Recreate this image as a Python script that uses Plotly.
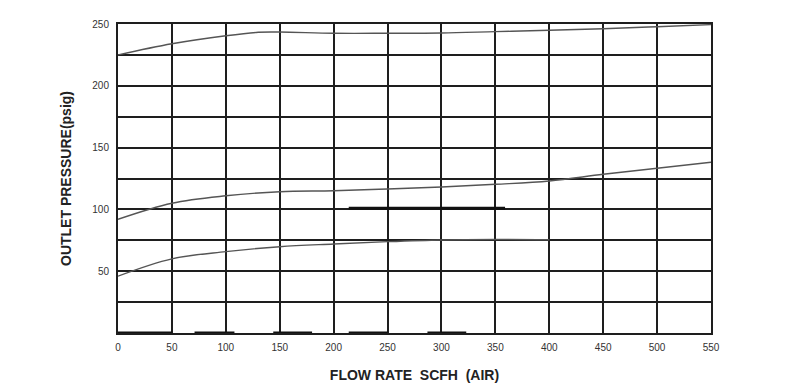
import plotly.graph_objects as go

# Flow rate (SCFH air) sample points and outlet pressure curves (psig)
flow_top = [0, 50, 100, 130, 150, 200, 250, 300, 350, 400, 450, 500, 550]
pressure_top = [225, 234, 240.5, 243.3, 243.5, 242.5, 242.5, 242.7, 243.8, 244.9, 246.2, 247.8, 249.5]

flow_mid = [0, 50, 100, 150, 200, 250, 300, 350, 400, 450, 500, 550]
pressure_mid = [92, 105, 111, 114.3, 115.1, 116.5, 118.1, 120.3, 123, 128.4, 133.3, 138.1]

flow_low = [0, 50, 100, 150, 200, 250, 300, 350, 400]
pressure_low = [46, 60, 65.8, 69.8, 72, 73.9, 75.3, 75.7, 75.5]

# Thickened line segments visible in the scanned chart: (x_start, x_end, y)
segments = [
    (214, 359, 101),
    (0, 50, 0),
    (71, 108, 0),
    (144, 180, 0),
    (214, 250, 0),
    (287, 323, 0),
]

x_tickvals = [0, 50, 100, 150, 200, 250, 300, 350, 400, 450, 500, 550]
x_ticktext = ["0", "50", "100", "150", "200", "250", "300", "350", "400", "450", "500", "550"]
y_tickvals = [0, 25, 50, 75, 100, 125, 150, 175, 200, 225, 250]
y_ticktext = ["", "", "50", "", "100", "", "150", "", "200", "", "250"]

curve_color = "#555555"
grid_color = "#1e1e1e"

fig = go.Figure()
for xs, ys in [(flow_top, pressure_top), (flow_mid, pressure_mid), (flow_low, pressure_low)]:
    fig.add_trace(go.Scatter(x=xs, y=ys, mode="lines", line=dict(color=curve_color, width=1.4, shape="spline"),
                             hoverinfo="skip", showlegend=False))

for x0, x1, yv in segments:
    fig.add_trace(go.Scatter(x=[x0, x1], y=[yv, yv], mode="lines", line=dict(color="#111111", width=3),
                             cliponaxis=False, hoverinfo="skip", showlegend=False))

# page body has an 8px default margin, so the figure is sized to fit within the window
fig.update_layout(
    width=786, height=380,
    margin=dict(l=110, r=83, t=16, b=55),
    paper_bgcolor="white", plot_bgcolor="white",
    font=dict(family="Liberation Sans, Arial, sans-serif", size=10, color="#333333"),
    xaxis=dict(range=[0, 550], tickvals=x_tickvals, ticktext=x_ticktext, showgrid=True, automargin=False,
               gridcolor=grid_color, gridwidth=2, showline=True, linecolor=grid_color, linewidth=2,
               mirror=True, zeroline=False, ticks="", ticklabelstandoff=4,
               title=dict(text="<b>FLOW RATE  SCFH  (AIR)</b>", font=dict(size=14, color="#222222"), standoff=18)),
    yaxis=dict(range=[0, 250], tickvals=y_tickvals, ticktext=y_ticktext, showgrid=True, automargin=False,
               gridcolor=grid_color, gridwidth=2, showline=True, linecolor=grid_color, linewidth=2,
               mirror=True, zeroline=False, ticks="", ticklabelstandoff=5,
               title=dict(text="<b>OUTLET PRESSURE(psig)</b>", font=dict(size=14, color="#222222"), standoff=17)),
)

fig.write_html("out.html")
